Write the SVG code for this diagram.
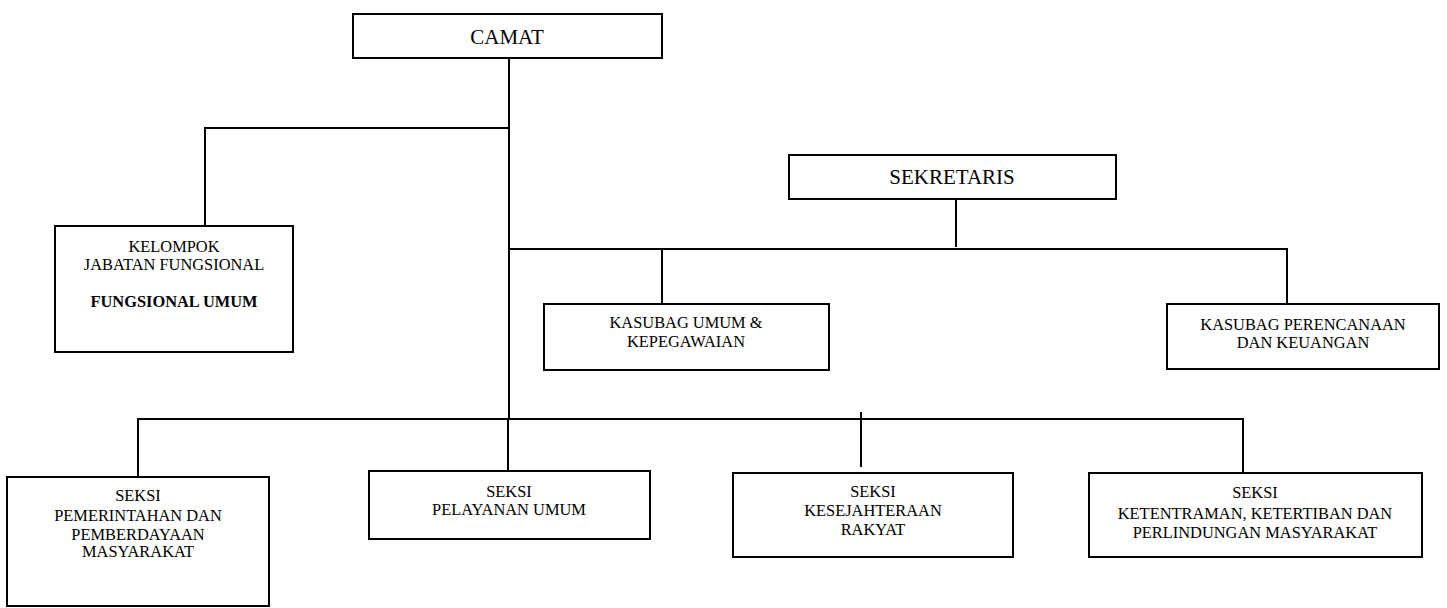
<svg xmlns="http://www.w3.org/2000/svg" width="1447" height="608" viewBox="0 0 1447 608">
<style>
.box{fill:#fff;stroke:#000;stroke-width:2}
.ln{stroke:#000;stroke-width:2;fill:none}
text{font-family:"Liberation Serif","Times New Roman",serif;fill:#000;text-anchor:middle}
.big{font-size:21px}
.sm{font-size:16.4px}
.b{font-weight:bold}
</style>
<rect width="1447" height="608" fill="#fff"/>
<g id="connectors">
<line class="ln" x1="509" y1="59" x2="509" y2="419"/>
<polyline class="ln" points="509,128 205,128 205,226"/>
<line class="ln" x1="956" y1="199" x2="956" y2="247"/>
<polyline class="ln" points="509,249 1287,249 1287,304"/>
<line class="ln" x1="662" y1="249" x2="662" y2="304"/>
<polyline class="ln" points="138,477 138,419 1243,419 1243,476"/>
<line class="ln" x1="508" y1="419" x2="508" y2="471"/>
<line class="ln" x1="861" y1="412" x2="861" y2="467"/>
</g>
<g id="camat">
<rect class="box" x="353" y="14" width="309" height="44"/>
<text class="big" x="507" y="44">CAMAT</text>
</g>
<g id="sekretaris">
<rect class="box" x="789" y="155" width="327" height="44"/>
<text class="big" x="952" y="184">SEKRETARIS</text>
</g>
<g id="kelompok">
<rect class="box" x="55" y="226" width="238" height="126"/>
<text class="sm" x="174" y="252">KELOMPOK</text>
<text class="sm" x="174" y="270">JABATAN FUNGSIONAL</text>
<text class="sm b" x="174" y="307">FUNGSIONAL UMUM</text>
</g>
<g id="kasubag-umum">
<rect class="box" x="544" y="304" width="285" height="66"/>
<text class="sm" x="686" y="328">KASUBAG UMUM &amp;</text>
<text class="sm" x="686" y="347">KEPEGAWAIAN</text>
</g>
<g id="kasubag-perencanaan">
<rect class="box" x="1167" y="304" width="272" height="65"/>
<text class="sm" x="1303" y="330">KASUBAG PERENCANAAN</text>
<text class="sm" x="1303" y="348">DAN KEUANGAN</text>
</g>
<g id="seksi-pemerintahan">
<rect class="box" x="7" y="477" width="262" height="129"/>
<text class="sm" x="138" y="501">SEKSI</text>
<text class="sm" x="138" y="521">PEMERINTAHAN DAN</text>
<text class="sm" x="138" y="540">PEMBERDAYAAN</text>
<text class="sm" x="138" y="557">MASYARAKAT</text>
</g>
<g id="seksi-pelayanan">
<rect class="box" x="369" y="471" width="281" height="68"/>
<text class="sm" x="509" y="497">SEKSI</text>
<text class="sm" x="509" y="515">PELAYANAN UMUM</text>
</g>
<g id="seksi-kesejahteraan">
<rect class="box" x="733" y="473" width="280" height="84"/>
<text class="sm" x="873" y="497">SEKSI</text>
<text class="sm" x="873" y="516">KESEJAHTERAAN</text>
<text class="sm" x="873" y="535">RAKYAT</text>
</g>
<g id="seksi-ketentraman">
<rect class="box" x="1089" y="473" width="333" height="84"/>
<text class="sm" x="1255" y="498">SEKSI</text>
<text class="sm" x="1255" y="519">KETENTRAMAN, KETERTIBAN DAN</text>
<text class="sm" x="1255" y="538">PERLINDUNGAN MASYARAKAT</text>
</g>
</svg>
